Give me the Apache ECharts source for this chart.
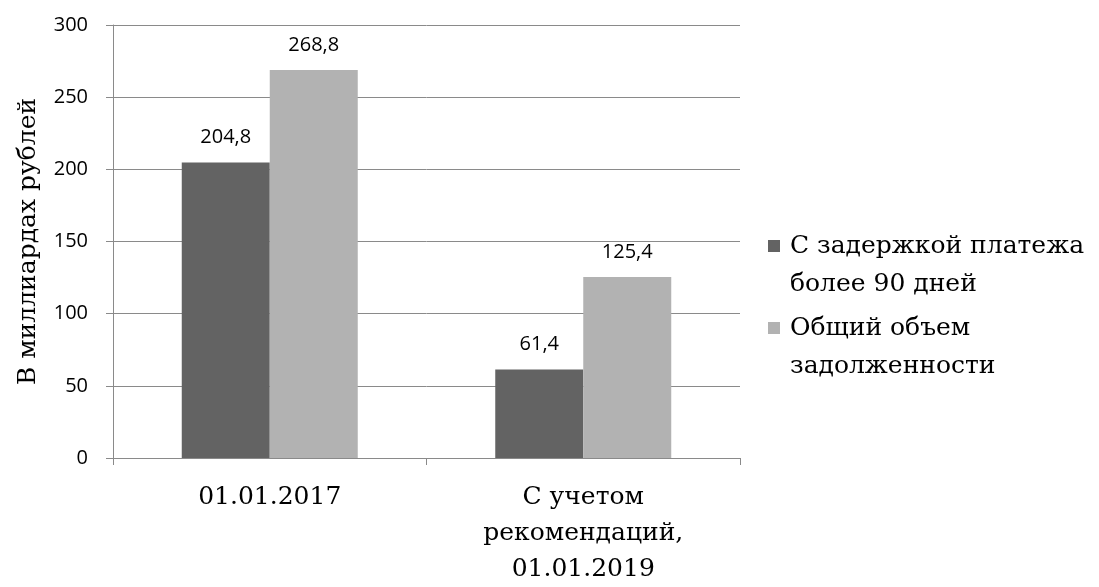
<!DOCTYPE html>
<html>
<head>
<meta charset="utf-8">
<script src="https://cdn.jsdelivr.net/npm/echarts@6/dist/echarts.min.js"></script>
<style>
  html, body { margin: 0; padding: 0; background: #ffffff; overflow: hidden; }
  #chart { width: 1099px; height: 587px; }
</style>
</head>
<body>
<div id="chart"></div>
<script>
// Категории, ряды и подписи оси
const categories = ['01.01.2017', 'С учетом\nрекомендаций,\n01.01.2019'];
const seriesNames = ['С задержкой платежа\nболее 90 дней', 'Общий объем\nзадолженности'];
const overdueValues = [204.8, 61.4];
const totalValues = [268.8, 125.4];
const yTicks = [0, 50, 100, 150, 200, 250, 300];
const axisTitle = 'В миллиардах рублей';

const colors = ['#636363', '#b2b2b2'];
const gridColor = '#8a8a8a';
const serif = '"DejaVu Serif", "Liberation Serif", serif';
const sans = '"Open Sans", "DejaVu Sans", sans-serif';

// Значок легенды: квадрат у первой строки подписи
const legendIcon = 'path://M0,0h12v12h-12z M0,50L0,50';

const chart = echarts.init(document.getElementById('chart'), null, { renderer: 'canvas' });

const valueLabel = {
  show: true,
  position: 'top',
  distance: 15,
  fontFamily: sans,
  fontSize: 20,
  color: '#000000',
  formatter: p => String(p.value).replace('.', ',')
};

chart.setOption({
  animation: false,
  backgroundColor: '#ffffff',
  grid: { left: 113, right: 359, top: 25, bottom: 123, containLabel: false },
  legend: {
    orient: 'vertical',
    left: 763,
    top: 222,
    itemWidth: 12,
    itemHeight: 50,
    itemGap: 6,
    icon: legendIcon,
    selectedMode: false,
    data: seriesNames,
    textStyle: {
      fontFamily: serif,
      fontSize: 25,
      lineHeight: 38,
      color: '#000000',
      padding: [0, 0, 0, 5]
    }
  },
  xAxis: {
    type: 'category',
    data: categories,
    axisLine: { show: true, lineStyle: { color: gridColor, width: 1 } },
    axisTick: { show: true, length: 7, alignWithLabel: false, lineStyle: { color: gridColor } },
    axisLabel: {
      margin: 21,
      fontFamily: serif,
      fontSize: 25,
      lineHeight: 36,
      color: '#000000',
      interval: 0
    }
  },
  yAxis: {
    type: 'value',
    min: yTicks[0],
    max: yTicks[yTicks.length - 1],
    interval: yTicks[1] - yTicks[0],
    name: axisTitle,
    nameLocation: 'middle',
    nameGap: 72,
    nameTextStyle: { fontFamily: serif, fontSize: 25, color: '#000000' },
    axisLine: { show: true, lineStyle: { color: gridColor, width: 1 } },
    axisTick: { show: true, length: 7, lineStyle: { color: gridColor } },
    splitLine: { show: true, lineStyle: { color: gridColor, width: 1 } },
    axisLabel: {
      margin: 25,
      fontFamily: sans,
      fontSize: 20,
      color: '#000000'
    }
  },
  series: [
    {
      name: seriesNames[0],
      type: 'bar',
      data: overdueValues,
      barWidth: 88,
      barGap: '0%',
      itemStyle: { color: colors[0] },
      label: valueLabel
    },
    {
      name: seriesNames[1],
      type: 'bar',
      data: totalValues,
      barWidth: 88,
      barGap: '0%',
      itemStyle: { color: colors[1] },
      label: valueLabel
    }
  ]
});
</script>
</body>
</html>
